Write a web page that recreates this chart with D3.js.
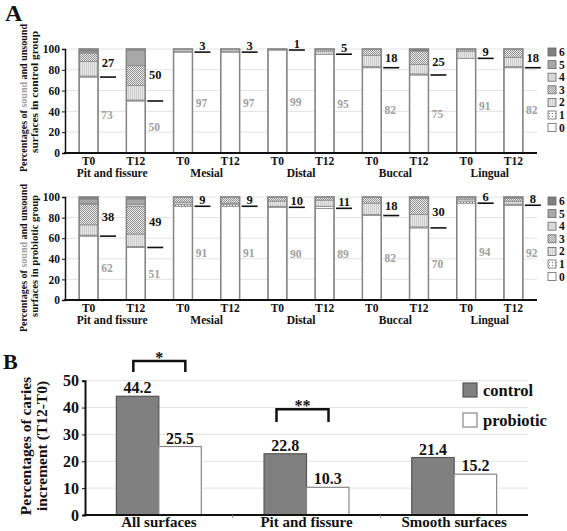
<!DOCTYPE html>
<html><head><meta charset="utf-8">
<script src="https://cdn.jsdelivr.net/npm/d3@7"></script>
<style>
body{margin:0;background:#fff}
svg{display:block}
text{font-family:"Liberation Serif","Times New Roman",serif;font-weight:bold}
</style>
</head><body>
<svg id="c" width="567" height="531"></svg>
<script>
// ---------- DATA ----------
const surfaces = ["Pit and fissure", "Mesial", "Distal", "Buccal", "Lingual"];
const timepoints = ["T0", "T12"];
const scoreCodes = ["0", "1", "2", "3", "4", "5", "6"];
// percentage of surfaces per ICDAS score (0..6), bars ordered surface x timepoint
const controlScores = [
  [73, 1, 14, 8, 1, 1, 2],
  [50, 1, 14, 19, 0, 15, 1],
  [97, 1, 2, 0, 0, 0, 0],
  [97, 1, 2, 0, 0, 0, 0],
  [99, 0, 0, 1, 0, 0, 0],
  [95, 0, 3, 2, 0, 0, 0],
  [82, 1, 11, 6, 0, 0, 0],
  [75, 1, 9, 13, 0, 0, 2],
  [91, 0, 7, 2, 0, 0, 0],
  [82, 1, 9, 8, 0, 0, 0]
];
const probioticScores = [
  [62, 1, 10, 20, 1, 4, 2],
  [51, 1, 12, 27, 2, 5, 2],
  [91, 2, 2, 5, 0, 0, 0],
  [91, 2, 1, 6, 0, 0, 0],
  [90, 1, 5, 4, 0, 0, 0],
  [89, 2, 6, 3, 0, 0, 0],
  [82, 1, 11, 6, 0, 0, 0],
  [70, 1, 12, 16, 0, 0, 1],
  [94, 2, 2, 2, 0, 0, 0],
  [92, 1, 3, 3, 0, 0, 1]
];
const controlSound = [73, 50, 97, 97, 99, 95, 82, 75, 91, 82];
const controlUnsound = [27, 50, 3, 3, 1, 5, 18, 25, 9, 18];
const probioticSound = [62, 51, 91, 91, 90, 89, 82, 70, 94, 92];
const probioticUnsound = [38, 49, 9, 9, 10, 11, 18, 30, 6, 8];
const panelATicks = [0, 20, 40, 60, 80, 100];

const incrementCategories = ["All surfaces", "Pit and fissure", "Smooth surfaces"];
const incrementGroups = ["control", "probiotic"];
const incrementControl = [44.2, 22.8, 21.4];
const incrementProbiotic = [25.5, 10.3, 15.2];
const incrementTicks = [0, 10, 20, 30, 40, 50];
const significanceLabels = ["*", "**"];
const significanceCats = ["All surfaces", "Pit and fissure"];

// ---------- DRAW ----------
const svg = d3.select("#c");
const defs = svg.append("defs");
const p1 = defs.append("pattern").attr("id","p1").attr("width",3).attr("height",3).attr("patternUnits","userSpaceOnUse");
p1.append("rect").attr("width",3).attr("height",3).attr("fill","#fff");
p1.append("rect").attr("x",1).attr("y",1).attr("width",1).attr("height",1).attr("fill","#777");
const p2 = defs.append("pattern").attr("id","p2").attr("width",2).attr("height",2).attr("patternUnits","userSpaceOnUse");
p2.append("rect").attr("width",2).attr("height",2).attr("fill","#e8e8e8");
p2.append("rect").attr("width",1).attr("height",2).attr("fill","#cdcdcd");
const p3 = defs.append("pattern").attr("id","p3").attr("width",2).attr("height",2).attr("patternUnits","userSpaceOnUse");
p3.append("rect").attr("width",2).attr("height",2).attr("fill","#f2f2f2");
p3.append("rect").attr("width",1).attr("height",1).attr("fill","#8c8c8c");
p3.append("rect").attr("x",1).attr("y",1).attr("width",1).attr("height",1).attr("fill","#8c8c8c");

const fills = {"0":"#ffffff","1":"url(#p1)","2":"url(#p2)","3":"url(#p3)","4":"#d9d9d9","5":"#a8a8a8","6":"#808080"};

const barLabels = [];
surfaces.forEach(s => timepoints.forEach(t => barLabels.push({s, t})));

const xA = d3.scaleBand().domain(d3.range(barLabels.length)).range([65, 537]);
const barOff = xA.step() * 0.30, barW = xA.step() * 0.40;

function panelA(scores, sound, unsound, yTop, yBottom, groupName, legendTop, titleCenters) {
  const y = d3.scaleLinear().domain([0, 100]).range([yBottom, yTop]);
  const g = svg.append("g");
  g.selectAll(".grid").data(panelATicks.slice(1)).join("line")
    .attr("x1", 65).attr("x2", 537).attr("y1", d => y(d)).attr("y2", d => y(d))
    .attr("stroke", "#e3e3e3").attr("stroke-width", 1);
  const rows = scores.map(r => Object.fromEntries(scoreCodes.map((k, j) => [k, r[j]])));
  const stacked = d3.stack().keys(scoreCodes)(rows);
  stacked.forEach(layer => {
    g.selectAll(null).data(layer.map((d, i) => ({d, i})).filter(o => o.d[1] > o.d[0])).join("rect")
      .attr("x", o => xA(o.i) + barOff).attr("width", barW)
      .attr("y", o => y(o.d[1])).attr("height", o => y(o.d[0]) - y(o.d[1]))
      .attr("fill", fills[layer.key]).attr("stroke", "#8a8a8a").attr("stroke-width", 0.8);
  });
  g.selectAll(null).data(d3.range(scores.length)).join("rect")
    .attr("x", i => xA(i) + barOff).attr("width", barW)
    .attr("y", y(100)).attr("height", y(0) - y(100))
    .attr("fill", "none").attr("stroke", "#858585").attr("stroke-width", 1.5);
  const lx = i => xA(i) + barOff + barW + 2;
  g.selectAll(null).data(sound).join("line")
    .attr("x1", (d, i) => lx(i)).attr("x2", (d, i) => lx(i) + 16)
    .attr("y1", d => y(d)).attr("y2", d => y(d))
    .attr("stroke", "#111").attr("stroke-width", 1.6);
  g.selectAll(null).data(unsound).join("text")
    .attr("x", (d, i) => lx(i) + 8)
    .attr("y", (d, i) => Math.min(y((sound[i] + 100) / 2), y(sound[i]) - 6))
    .attr("text-anchor", "middle").attr("dominant-baseline", "central")
    .attr("font-size", 12.5).attr("fill", "#111").text(d => d);
  g.selectAll(null).data(sound).join("text")
    .attr("x", (d, i) => lx(i) + 7).attr("y", d => y(d / 2))
    .attr("text-anchor", "middle").attr("dominant-baseline", "central")
    .attr("font-size", 11.5).attr("fill", "#a0a0a0").text(d => d);
  const ya = d3.axisLeft(y).tickValues(panelATicks).tickSize(3).tickPadding(2);
  const yg = g.append("g").attr("transform", "translate(65,0)").call(ya);
  yg.select(".domain").attr("stroke", "#111").attr("stroke-width", 1.5);
  yg.selectAll(".tick line").attr("stroke", "#111");
  yg.selectAll(".tick text").attr("font-size", 11.5).attr("font-family", "Liberation Serif").attr("font-weight", "bold").attr("fill", "#111");
  g.append("line").attr("x1", 64).attr("x2", 537).attr("y1", yBottom).attr("y2", yBottom)
    .attr("stroke", "#111").attr("stroke-width", 2);
  g.selectAll(null).data(barLabels).join("text")
    .attr("x", (d, i) => xA(i) + barOff + barW / 2).attr("y", yBottom + 12)
    .attr("text-anchor", "middle").attr("font-size", 11.5).attr("fill", "#111").text(d => d.t);
  g.selectAll(null).data(surfaces).join("text")
    .attr("x", (d, k) => (xA(2 * k) + xA(2 * k + 1)) / 2 + barOff + barW / 2).attr("y", yBottom + 24)
    .attr("text-anchor", "middle").attr("font-size", 11.5).attr("fill", "#111").text(d => d);
  const t1 = g.append("text").attr("transform", `translate(27,${titleCenters[0]}) rotate(-90)`)
    .attr("text-anchor", "middle").attr("font-size", 10).attr("fill", "#111")
    .attr("textLength", 148).attr("lengthAdjust", "spacingAndGlyphs");
  t1.append("tspan").text("Percentages of ");
  t1.append("tspan").attr("fill", "#a0a0a0").text("sound");
  t1.append("tspan").text(" and unsound");
  g.append("text").attr("transform", `translate(37.5,${titleCenters[1]}) rotate(-90)`)
    .attr("text-anchor", "middle").attr("font-size", 10).attr("fill", "#111")
    .attr("textLength", 122).attr("lengthAdjust", "spacingAndGlyphs")
    .text(`surfaces in ${groupName} group`);
  const leg = g.selectAll(null).data(scoreCodes.slice().reverse()).join("g")
    .attr("transform", (d, j) => `translate(548,${legendTop + j * 12.6})`);
  leg.append("rect").attr("x", 0).attr("y", -4).attr("width", 8).attr("height", 8)
    .attr("fill", d => fills[d]).attr("stroke", "#666").attr("stroke-width", 0.8);
  leg.append("text").attr("x", 11).attr("y", 0).attr("dominant-baseline", "central")
    .attr("font-size", 11.5).attr("fill", "#111").text(d => d);
}

panelA(controlScores, controlSound, controlUnsound, 49, 153, "control", 52, [98, 92]);
panelA(probioticScores, probioticSound, probioticUnsound, 197, 300, "probiotic", 201, [258, 256]);

svg.append("text").attr("x", 5).attr("y", 21).attr("font-size", 24).attr("fill", "#111").text("A");
svg.append("text").attr("x", 3).attr("y", 369).attr("font-size", 22).attr("fill", "#111").text("B");

// ---------- PANEL B ----------
const xB = d3.scaleBand().domain(incrementCategories).range([85, 528]).paddingInner(0.425).paddingOuter(0.2125);
const xSub = d3.scaleBand().domain(incrementGroups).range([0, xB.bandwidth()]);
const yB = d3.scaleLinear().domain([0, 50]).range([515, 380.7]);
const gB = svg.append("g");
gB.selectAll(null).data(incrementTicks.slice(1)).join("line")
  .attr("x1", 85).attr("x2", 528).attr("y1", d => yB(d)).attr("y2", d => yB(d))
  .attr("stroke", "#e3e3e3");
const rowsB = incrementCategories.map((c, i) => ({c, control: incrementControl[i], probiotic: incrementProbiotic[i]}));
const barStyle = {control: {fill: "#808080", stroke: "#555"}, probiotic: {fill: "#fff", stroke: "#888"}};
incrementGroups.forEach(gk => {
  gB.selectAll(null).data(rowsB).join("rect")
    .attr("x", d => xB(d.c) + xSub(gk)).attr("width", xSub.bandwidth())
    .attr("y", d => yB(d[gk])).attr("height", d => yB(0) - yB(d[gk]))
    .attr("fill", barStyle[gk].fill).attr("stroke", barStyle[gk].stroke).attr("stroke-width", 1.2);
  gB.selectAll(null).data(rowsB).join("text")
    .attr("x", d => xB(d.c) + xSub(gk) + xSub.bandwidth() / 2).attr("y", d => yB(d[gk]) - 3)
    .attr("text-anchor", "middle").attr("font-size", 16).attr("fill", "#111").text(d => d[gk].toFixed(1));
});
const yaB = d3.axisLeft(yB).tickValues(incrementTicks).tickSize(3).tickPadding(3);
const ygB = gB.append("g").attr("transform", "translate(85,0)").call(yaB);
ygB.select(".domain").attr("stroke", "#111").attr("stroke-width", 2);
ygB.selectAll(".tick line").attr("stroke", "#111");
ygB.selectAll(".tick text").attr("font-size", 16).attr("font-family", "Liberation Serif").attr("font-weight", "bold").attr("fill", "#111");
gB.append("line").attr("x1", 84).attr("x2", 528).attr("y1", 515).attr("y2", 515).attr("stroke", "#111").attr("stroke-width", 2);
gB.selectAll(null).data([1, 2]).join("line")
  .attr("x1", d => 85 + xB.step() * d).attr("x2", d => 85 + xB.step() * d)
  .attr("y1", 515).attr("y2", 518).attr("stroke", "#888");
gB.selectAll(null).data(incrementCategories).join("text")
  .attr("x", d => xB(d) + xB.bandwidth() / 2).attr("y", 527)
  .attr("text-anchor", "middle").attr("font-size", 15).attr("fill", "#111").text(d => d);
gB.append("text").attr("transform", "translate(31,446) rotate(-90)")
  .attr("text-anchor", "middle").attr("font-size", 15.5).attr("fill", "#111").text("Percentages of caries");
gB.append("text").attr("transform", "translate(47,446) rotate(-90)")
  .attr("text-anchor", "middle").attr("font-size", 15.5).attr("fill", "#111").text("increment (T12-T0)");
const brackets = [
  {l: -25.5, r: 26.5, top: 57.3, bot: 53.2},
  {l: -30, r: 22, top: 39.4, bot: 34.6}
];
significanceCats.forEach((c, i) => {
  const cx = xB(c) + xB.bandwidth() / 2, b = brackets[i];
  const x1 = cx + b.l, x2 = cx + b.r;
  gB.append("path").attr("d", `M${x1},${yB(b.bot)}V${yB(b.top)}H${x2}V${yB(b.bot)}`)
    .attr("fill", "none").attr("stroke", "#111").attr("stroke-width", 2.5);
  gB.append("text").attr("x", (x1 + x2) / 2).attr("y", yB(b.top) + 2)
    .attr("text-anchor", "middle").attr("font-size", 16).attr("fill", "#111").text(significanceLabels[i]);
});
const legB = gB.selectAll(null).data(incrementGroups).join("g")
  .attr("transform", (d, i) => `translate(463,${390 + i * 30})`);
legB.append("rect").attr("x", 0).attr("y", -7).attr("width", 14).attr("height", 14)
  .attr("fill", d => barStyle[d].fill).attr("stroke", d => barStyle[d].stroke).attr("stroke-width", 1.2);
legB.append("text").attr("x", 20).attr("y", 0).attr("dominant-baseline", "central")
  .attr("font-size", 16.5).attr("fill", "#111").text(d => d);
</script>
</body></html>
